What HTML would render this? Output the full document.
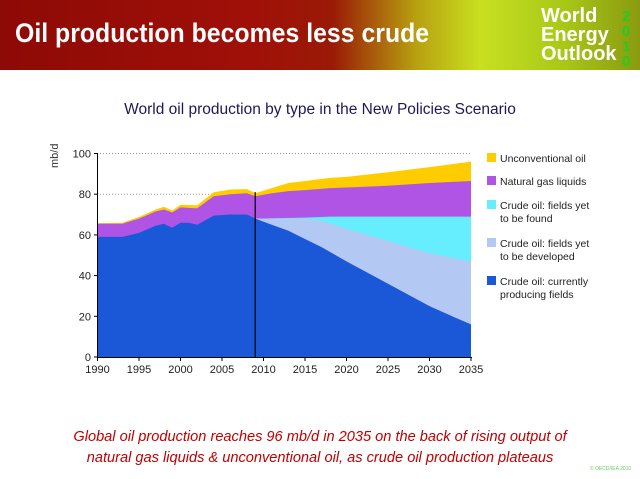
<!DOCTYPE html>
<html><head><meta charset="utf-8"><style>
body{margin:0;width:640px;height:479px;background:#fff;overflow:hidden;font-family:"Liberation Sans",sans-serif;position:relative}
#hdr{position:absolute;left:0;top:0;width:640px;height:70px;background:linear-gradient(90deg,#8e0a06 0%,#a01008 40%,#9a1a06 52%,#b8a010 65%,#c8e020 75%,#a8c818 88%,#8a9a10 100%)}
#hdr .t{position:absolute;left:15px;top:18px;color:#fff;font-size:27px;font-weight:bold;transform:scaleX(0.92);transform-origin:0 0;white-space:nowrap}
#weo{position:absolute;left:541px;top:7px;color:#fff;font-size:20px;line-height:19px;font-weight:bold}
#yr{position:absolute;left:622px;top:9px;color:#2c2;font-size:15px;line-height:15px;font-weight:bold;width:10px}
#title{position:absolute;left:0;width:640px;top:101px;text-align:center;font-size:15.5px;color:#1a1a5a}
#foot{position:absolute;left:0;width:640px;top:427px;text-align:center;font-size:14.6px;color:#c00000;font-style:italic;line-height:21px}
#cp{position:absolute;left:590px;top:466px;font-size:5px;color:#6c6}
svg{position:absolute;left:0;top:0}
</style></head><body>
<div id="hdr"><div class="t">Oil production becomes less crude</div>
<div id="weo">World<br>Energy<br>Outlook</div><div id="yr">2<br>0<br>1<br>0</div></div>
<div id="title">World oil production by type in the New Policies Scenario</div>
<svg id="s" width="640" height="479" font-family="Liberation Sans, sans-serif"></svg>
<div id="foot">Global oil production reaches 96 mb/d in 2035 on the back of rising output of<br>natural gas liquids &amp; unconventional oil, as crude oil production plateaus</div>
<div id="cp">© OECD/IEA 2010</div>
<script>
const X=y=>97.5+(y-1990)*8.3, Y=v=>357-v*2.035;
const blue=[[1990,59],[1993,59],[1995,61],[1997,64.5],[1998,65.5],[1999,63.5],[2000,66],[2001,66],[2002,65],[2004,69.5],[2006,70],[2008,70],[2009,68],[2011,65],[2013,62],[2015,58],[2017,54],[2020,47],[2025,36],[2030,25],[2033,19.5],[2035,16]];
const lb=[[2009,68],[2015,68],[2017,67],[2020,63],[2025,57],[2030,51],[2035,47]];
const cy=[[2009,68],[2015,68.5],[2018,69],[2035,69]];
const pu=[[1990,65.5],[1993,65.5],[1995,68],[1997,71.5],[1998,72.5],[1999,71],[2000,73.5],[2002,73],[2004,79],[2006,80],[2008,80.5],[2009,79],[2011,80.5],[2013,81.5],[2015,82],[2018,83],[2020,83.3],[2025,84.2],[2030,85.5],[2035,86.5]];
const ye=[[1990,65.8],[1993,66],[1995,68.8],[1997,72.5],[1998,73.8],[1999,72],[2000,74.8],[2002,74.5],[2004,81],[2006,82.3],[2008,82.5],[2009,80.5],[2011,83],[2013,85.5],[2015,86.5],[2018,88],[2020,88.5],[2025,90.8],[2030,93.3],[2035,96]];
const pts=a=>a.map(p=>X(p[0]).toFixed(1)+','+Y(p[1]).toFixed(1)).join(' ');
let h='';
[80,100].forEach(v=>h+=`<line x1="97" x2="471" y1="${Y(v)}" y2="${Y(v)}" stroke="#999" stroke-dasharray="1,2"/>`);
const poly=(a,c)=>h+=`<polygon points="${pts(a)} ${X(2035)},${Y(0)} ${X(1990)},${Y(0)}" fill="${c}"/>`;
poly(ye,'#ffcc00');poly(pu,'#b054e6');
h+=`<polygon points="${pts(cy)} ${X(2035)},${Y(0)} ${X(2009)},${Y(0)}" fill="#66eeff"/>`;
h+=`<polygon points="${pts(lb)} ${X(2035)},${Y(0)} ${X(2009)},${Y(0)}" fill="#b4c8f4"/>`;
poly(blue,'#1a58d8');
h+=`<line x1="${X(2009)}" x2="${X(2009)}" y1="${Y(81)}" y2="${Y(0)}" stroke="#000" stroke-width="1.2"/>`;
h+=`<line x1="97.5" x2="97.5" y1="153" y2="358" stroke="#000"/><line x1="97" x2="472" y1="357.5" y2="357.5" stroke="#000"/>`;
for(let v=0;v<=100;v+=20){h+=`<line x1="94" x2="97.5" y1="${Y(v)}" y2="${Y(v)}" stroke="#000"/><text x="91" y="${Y(v)+4}" font-size="11" text-anchor="end" fill="#222">${v}</text>`;}
for(let y=1990;y<=2035;y+=5){h+=`<line x1="${X(y)}" x2="${X(y)}" y1="357" y2="361" stroke="#000"/><text x="${X(y)}" y="373" font-size="11" text-anchor="middle" fill="#222">${y}</text>`;}
h+=`<text x="58" y="168" font-size="11" fill="#333" transform="rotate(-90 58 168)">mb/d</text>`;
const leg=[['#ffcc00',['Unconventional oil'],158],['#b054e6',['Natural gas liquids'],181],['#66eeff',['Crude oil: fields yet','to be found'],205],['#b4c8f4',['Crude oil: fields yet','to be developed'],243],['#1a58d8',['Crude oil: currently','producing fields'],281]];
leg.forEach(l=>{h+=`<rect x="487" y="${l[2]-5}" width="9" height="9" fill="${l[0]}"/>`;l[1].forEach((t,i)=>h+=`<text x="500" y="${l[2]+4+i*13}" font-size="10.5" fill="#222">${t}</text>`);});
document.getElementById('s').innerHTML=h;
</script>
</body></html>
